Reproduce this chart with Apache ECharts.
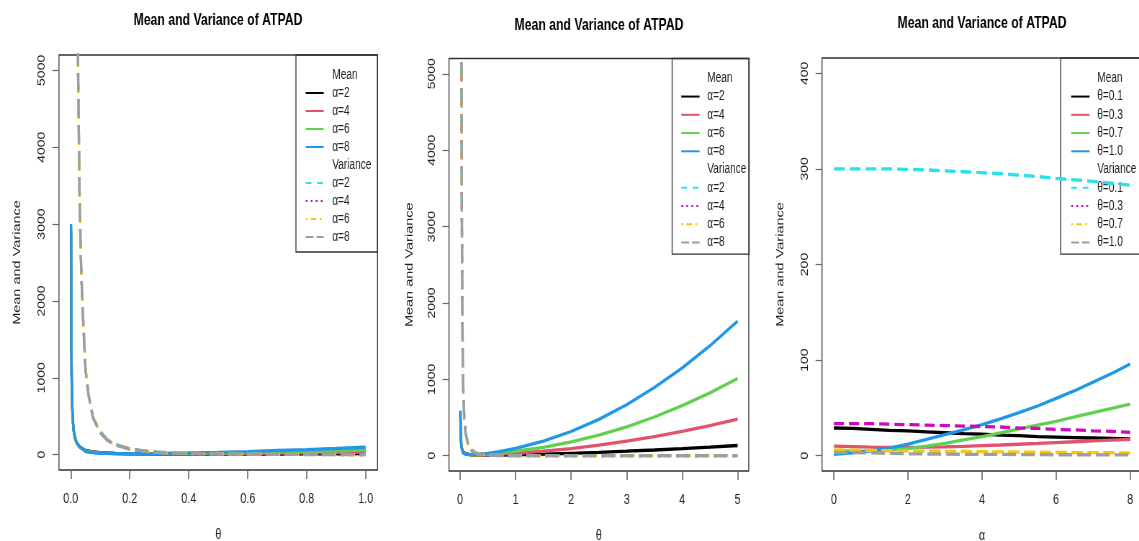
<!DOCTYPE html>
<html><head><meta charset="utf-8">
<script src="https://cdn.jsdelivr.net/npm/echarts@6/dist/echarts.min.js"></script>
<style>
html,body{margin:0;padding:0;background:#fff;overflow:hidden;width:1139px;height:541px}
#c{width:1582px;height:541px;transform:scaleX(0.72);transform-origin:0 0}
</style>
</head><body><div id="c"></div>
<script>
const FONT = "'Liberation Sans',Arial,sans-serif";

// ---------- Panel 1: theta in [0,1] ----------
const p1ThetaMean = [0.001,0.002,0.003,0.005,0.0075,0.01,0.015,0.02,0.03,0.05,0.075,0.1,0.15,0.2,0.3,0.4,0.5,0.6,0.7,0.8,0.9,1.0];
const p1MeanA2 = [2900,1480,1000,600,410,305,205,152,101,55,35,26,16,11,8.5,7,7,7.5,8,9,10.5,12];
const p1MeanA4 = [2930,1500,1010,610,415,310,207,154,102,50,31,23,15,11,9.5,10,12,15,20,24,28,32];
const p1MeanA6 = [2960,1520,1030,620,420,315,210,158,104,45,28,20,14,12,12.5,15,19,25,35,42,50,60];
const p1MeanA8 = [3000,1550,1050,640,430,320,212,160,105,40,25,17,14,14,17,22,30,40,54,66,80,96];
const p1ThetaVar = [0.01,0.02,0.025,0.03,0.035,0.04,0.05,0.06,0.075,0.1,0.125,0.15,0.2,0.25,0.3,0.4,0.5,0.6,0.7,0.8,0.9,1.0];
const p1VarA2 = [30000,7500,4900,3300,2450,1900,1120,790,490,299.5,192,134,76,50,32.5,19,12,8,5,3.5,2.6,2];
const p1VarA4 = [30000,7500,4900,3300,2450,1900,1110,785,485,296,190,132,75,49,30,18,11,7.2,4,3,2,1.5];
const p1VarA6 = [30000,7500,4900,3300,2450,1900,1105,780,482,290,187,130,73,47,27,16,10,6.5,3.5,2.5,1.5,1];
const p1VarA8 = [30000,7500,4900,3300,2450,1900,1100,775,480,283,183,127,71,45,24.5,15,9,6,3,2,1.2,0.8];
const p1XTicks = [0,0.2,0.4,0.6,0.8,1.0];
const p1YTicks = [0,1000,2000,3000,4000,5000];

// ---------- Panel 2: theta in [0,5] ----------
const p2ThetaMean = [0.005,0.01,0.02,0.03,0.05,0.1,0.2,0.3,0.5,0.7,1,1.5,2,2.5,3,3.5,4,4.5,5];
const p2MeanA2 = [560,305,152,101,55,26,11,8.5,7,8,12,21,32,44,59,75,93,113,134];
const p2MeanA4 = [570,310,154,102,50,23,11,9.5,12,20,32,59,94,138,190,250,318,395,480];
const p2MeanA6 = [580,315,158,104,45,20,12,12.5,19,35,60,110,180,269,378,507,655,823,1010];
const p2MeanA8 = [590,320,160,105,40,17,14,17,30,54,96,190,317,476,668,892,1149,1439,1762];
const p2ThetaVar = [0.01,0.02,0.025,0.03,0.04,0.05,0.06,0.075,0.1,0.15,0.2,0.3,0.5,0.7,1,2,3,4,5];
const p2VarA2 = [30000,7500,4900,3300,1900,1120,790,490,299.5,134,76,32.5,12,5,2,0.5,0.25,0.15,0.1];
const p2VarA4 = [30000,7500,4900,3300,1900,1110,785,485,296,132,75,30,11,4,1.5,0.4,0.2,0.12,0.08];
const p2VarA6 = [30000,7500,4900,3300,1900,1105,780,482,290,130,73,27,10,3.5,1,0.3,0.15,0.1,0.06];
const p2VarA8 = [30000,7500,4900,3300,1900,1100,775,480,283,127,71,24.5,9,3,0.8,0.25,0.12,0.08,0.05];
const p2XTicks = [0,1,2,3,4,5];
const p2YTicks = [0,1000,2000,3000,4000,5000];

// ---------- Panel 3: alpha in [0,8] ----------
const p3Alpha = [0,0.5,1,1.5,2,2.5,3,3.5,4,4.5,5,5.5,6,6.5,7,7.5,8];
const p3MeanT01 = [29,28.5,27.5,26.5,26,25,24,23,22.5,21.5,21,20,19.5,19,18.5,18,17.5];
const p3MeanT03 = [10,9.5,9,8.7,8.8,9,9.3,9.8,10.5,11.2,12,12.8,13.7,14.6,15.5,16.3,17];
const p3MeanT07 = [5,4.8,5,5.8,7.5,10,13,16.5,20,24,28,32,36,40.5,45,49.5,54];
const p3MeanT10 = [1.5,3,5,8,12,17,22,27,32.5,38.5,45,52,60,68,77,86,96];
const p3VarT01 = [300,300,300,300,299.5,299,298,297,296,295,293.5,292,290,288.5,287,285,283];
const p3VarT03 = [33.5,33.5,33.5,33,32.5,32,31.5,31,30.5,30,29,28.5,27.5,27,26,25.5,24.5];
const p3VarT07 = [6,5.8,5.5,5.2,5,4.8,4.6,4.4,4.2,4,3.8,3.6,3.5,3.3,3.2,3.1,3];
const p3VarT10 = [3.5,3.2,3,2.5,2,1.8,1.6,1.5,1.4,1.3,1.2,1.1,1,1,0.9,0.9,0.8];
const p3XTicks = [0,2,4,6,8];
const p3YTicks = [0,100,200,300,400];

const alphaLabels = ['α=2','α=4','α=6','α=8'];
const thetaLabels = ['θ=0.1','θ=0.3','θ=0.7','θ=1.0'];
const meanColors = ['#000000','#DF536B','#61D04F','#2297E6'];
const varColors = ['#28E2E5','#CD0BBC','#F5C710','#9E9E9E'];
const varDash = [[13,13],[4,9],[4,6,10,6],[19,7]];
const varDashP3 = [[15,7],[14,7],[16,6],[19,7]];
const legendDash = [[8,8],[2.5,4.5],[2.5,4.5,8,4.5],[11,4]];

const zip = (xs, ys) => xs.map((x, i) => [x, ys[i]]);

const series = [];
const legends = [];
function addPanel(gi, labels, meanX, means, varX, vars, dashes, legendOpt) {
  const tag = '|' + gi;
  series.push({type:'line', name:'Mean' + tag, data:[], xAxisIndex:gi, yAxisIndex:gi});
  series.push({type:'line', name:'Variance' + tag, data:[], xAxisIndex:gi, yAxisIndex:gi});
  means.forEach((m, i) => series.push({
    type:'line', name: labels[i] + tag + 'm', xAxisIndex:gi, yAxisIndex:gi,
    data: zip(meanX, m), symbol:'none', showSymbol:false, clip:true, z:2,
    color: meanColors[i], lineStyle:{color: meanColors[i], width:3.3}
  }));
  vars.forEach((v, i) => series.push({
    type:'line', name: labels[i] + tag + 'v', xAxisIndex:gi, yAxisIndex:gi,
    data: zip(varX, v), symbol:'none', showSymbol:false, clip:true, z:2,
    color: varColors[i], lineStyle:{color: varColors[i], width:3.3, type: dashes[i]}
  }));
  const data = [{name:'Mean' + tag, icon:'none'}];
  labels.forEach((l) => data.push({name: l + tag + 'm', lineStyle:{width:2}}));
  data.push({name:'Variance' + tag, icon:'none'});
  labels.forEach((l, i) => data.push({name: l + tag + 'v', lineStyle:{type: legendDash[i], width:2}}));
  legends.push({
    orient:'vertical', left:legendOpt.left, top:legendOpt.top, padding:legendOpt.padding,
    itemWidth:legendOpt.itemWidth, itemHeight:14, itemGap:legendOpt.itemGap,
    borderColor:'#333', borderWidth:1.3, z:1, selectedMode:false,
    itemStyle:{opacity:0},
    formatter: (n) => n.split('|')[0],
    textStyle:{fontFamily:FONT, fontSize:14, lineHeight:14, color:'#222', padding:[0,0,0,legendOpt.textPad]},
    data
  });
}

addPanel(0, alphaLabels, p1ThetaMean, [p1MeanA2,p1MeanA4,p1MeanA6,p1MeanA8], p1ThetaVar, [p1VarA2,p1VarA4,p1VarA6,p1VarA8], varDash,
  {left:411, top:55, padding:[13,8.5,8,12.5], itemWidth:25, itemGap:4, textPad:7});
addPanel(1, alphaLabels, p2ThetaMean, [p2MeanA2,p2MeanA4,p2MeanA6,p2MeanA8], p2ThetaVar, [p2VarA2,p2VarA4,p2VarA6,p2VarA8], varDash,
  {left:933.5, top:58.5, padding:[12.8,4,4.5,11.7], itemWidth:25.4, itemGap:4.25, textPad:5.7});
addPanel(2, thetaLabels, p3Alpha, [p3MeanT01,p3MeanT03,p3MeanT07,p3MeanT10], p3Alpha, [p3VarT01,p3VarT03,p3VarT07,p3VarT10], varDashP3,
  {left:1473, top:58, padding:[13.3,10,4.5,13.8], itemWidth:25.5, itemGap:4.25, textPad:5.7});

const grids = [
  {left:81.9, top:55, width:442.4, height:415},
  {left:623.6, top:58.5, width:416.3, height:412.5},
  {left:1141.7, top:58, width:444.4, height:413}
].map(g => Object.assign({show:true, containLabel:false, outerBoundsMode:'none', borderColor:'#333', borderWidth:1.3, backgroundColor:'transparent'}, g));

function xAxis(gi, min, max, ticks, fmt, name) {
  return {type:'value', gridIndex:gi, min, max, name, nameLocation:'middle', nameGap:57,
    nameTextStyle:{fontFamily:FONT, fontSize:15, color:'#222'},
    axisLine:{show:false, onZero:false}, splitLine:{show:false},
    axisTick:{show:true, length:9, lineStyle:{color:'#666', width:1.6}, customValues:ticks},
    axisLabel:{customValues:ticks, formatter:fmt, margin:21, fontFamily:FONT, fontSize:15, color:'#222'}};
}
function yAxis(gi, min, max, ticks, gap) {
  return {type:'value', gridIndex:gi, min, max, name:'Mean and Variance', nameLocation:'middle', nameGap:gap,
    nameTextStyle:{fontFamily:FONT, fontSize:14.5, color:'#222'},
    axisLine:{show:false, onZero:false}, splitLine:{show:false},
    axisTick:{show:true, length:9, lineStyle:{color:'#666', width:1.2}, customValues:ticks},
    axisLabel:{customValues:ticks, formatter:(v) => String(v), rotate:90, margin:16.5, fontFamily:FONT, fontSize:14, color:'#222'}};
}

const titleStyle = {fontFamily:FONT, fontWeight:'bold', fontSize:17, color:'#000'};
const option = {
  animation:false,
  backgroundColor:'#fff',
  title:[
    {text:'Mean and Variance of ATPAD', left:302.8, top:12, textAlign:'center', padding:0, textStyle:titleStyle},
    {text:'Mean and Variance of ATPAD', left:831.9, top:16.4, textAlign:'center', padding:0, textStyle:titleStyle},
    {text:'Mean and Variance of ATPAD', left:1363.9, top:15, textAlign:'center', padding:0, textStyle:titleStyle}
  ],
  grid: grids,
  xAxis:[
    xAxis(0, -0.04, 1.04, p1XTicks, (v) => v.toFixed(1), 'θ'),
    xAxis(1, -0.2, 5.2, p2XTicks, (v) => String(v), 'θ'),
    xAxis(2, -0.32, 8.32, p3XTicks, (v) => String(v), 'α')
  ],
  yAxis:[
    yAxis(0, -200, 5200, p1YTicks, 50),
    yAxis(1, -200, 5200, p2YTicks, 47),
    yAxis(2, -16, 416, p3YTicks, 50)
  ],
  legend: legends,
  series
};
const chart = echarts.init(document.getElementById('c'));
chart.setOption(option);
</script></body></html>
